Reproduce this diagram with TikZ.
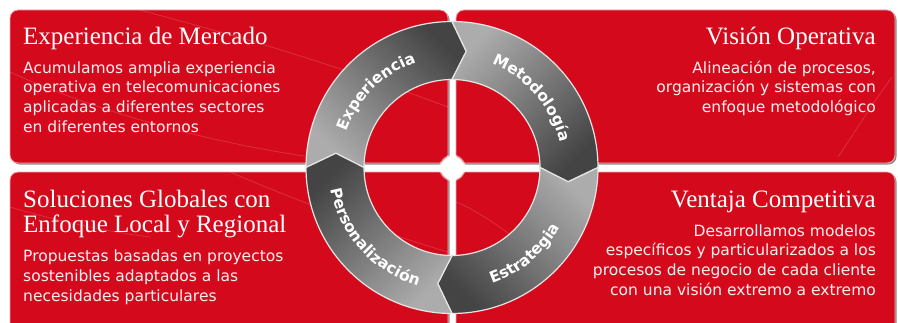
\documentclass[tikz,border=0pt]{standalone}
\usepackage{fontspec}
\usetikzlibrary{decorations.text,fadings}
\newfontfamily\titlefam{Liberation Serif}
\newfontfamily\bodyfam{DejaVu Sans}
\newcommand\ringfont{\bodyfam\bfseries\fontsize{15.5}{17}\selectfont}
\definecolor{boxred}{RGB}{212,10,28}
\definecolor{seglight}{RGB}{172,172,172}
\definecolor{segdark}{RGB}{68,68,68}

\tikzset{
  redbox/.style={fill=boxred, draw=white!65!boxred, line width=0.8pt, rounded corners=8pt},
  boxshadow/.style={fill=black!45, rounded corners=8pt},
  boxtitle/.style={text=white, font=\titlefam\fontsize{25}{25}\selectfont, inner sep=0pt},
  boxbody/.style={text=white!94!boxred, font=\bodyfam\fontsize{15.5}{19.8}\selectfont, inner sep=0pt},
  ringseg/.style={draw=white!80!gray, line width=1.2pt, top color=segdark, bottom color=seglight},
  streak/.style={white, opacity=0.15, line width=0.8pt}
}

\begin{document}
\begin{tikzpicture}[x=1pt,y=1pt]
\useasboundingbox (0,0) rectangle (898,322);

\fill[boxshadow] (11.5,157.5) rectangle (449.5,310.5);
\fill[boxshadow] (457.5,157.5) rectangle (896.5,310.5);
\fill[boxshadow] (11.5,-13.5) rectangle (449.5,148.5);
\fill[boxshadow] (457.5,-13.5) rectangle (896.5,148.5);
\draw[redbox] (10,159) rectangle (448,312);
\draw[redbox] (456,159) rectangle (895,312);
\draw[redbox] (10,-12) rectangle (448,150);
\draw[redbox] (456,-12) rectangle (895,150);

\draw[streak] (140,312) .. controls (220,290) and (300,270) .. (448,215);
\draw[streak] (10,250) .. controls (120,200) and (250,170) .. (360,159);
\draw[streak] (10,115) .. controls (60,100) and (110,90) .. (150,85);
\draw[streak] (230,150) .. controls (300,120) and (380,90) .. (448,70);
\draw[streak] (456,120) .. controls (480,110) and (500,95) .. (520,80);
\draw[streak] (892,245) .. controls (870,215) and (855,190) .. (838,165);

\node[boxtitle, anchor=base west] (mercado-title) at (23,277) {Experiencia de Mercado};
\node[boxbody, anchor=base west, align=left] (mercado-text) at (23,189.6)
  {Acumulamos amplia experiencia\\operativa en telecomunicaciones\\aplicadas a diferentes sectores\\en diferentes entornos};

\node[boxtitle, anchor=base east] (vision-title) at (876,277) {Visión Operativa};
\node[boxbody, anchor=base east, align=right] (vision-text) at (876,209.4)
  {Alineación de procesos,\\organización y sistemas con\\enfoque metodológico};

\node[boxtitle, anchor=base west, align=left] (soluciones-title) at (23,90)
  {Soluciones Globales con\\Enfoque Local y Regional};
\node[boxbody, anchor=base west, align=left] (soluciones-text) at (23,21)
  {Propuestas basadas en proyectos\\sostenibles adaptados a las\\necesidades particulares};

\node[boxtitle, anchor=base east] (ventaja-title) at (876,115) {Ventaja Competitiva};
\node[boxbody, anchor=base east, align=right] (ventaja-text) at (876,26.6)
  {Desarrollamos modelos\\específicos y particularizados a los\\procesos de negocio de cada cliente\\con una visión extremo a extremo};

\begin{scope}[shift={(452,154.5)}]
\fill[white, path fading=circle with fuzzy edge 20 percent] (0,0) circle (14);
\foreach \a/\sh in {180/-45,90/-135,0/135,270/45}
  \shade[ringseg, shading angle=\sh] (\a:146) arc[start angle=\a, end angle=\a-90, radius=146]
    -- (\a-97:117) -- (\a-90:88) arc[start angle=\a-90, end angle=\a, radius=88]
    -- (\a-7:117) -- cycle;

\path[decorate, decoration={text along path, text color=white, text align=center,
  text={|\ringfont|Experiencia}}] (195:111) arc[start angle=195, end angle=75, radius=111];
\path[decorate, decoration={text along path, text color=white, text align=center,
  text={|\ringfont|Metodología}}] (101:111) arc[start angle=101, end angle=-19, radius=111];
\path[decorate, decoration={text along path, text color=white, text align=center,
  text={|\ringfont|Estrategia}}] (-110:123) arc[start angle=-110, end angle=10, radius=123];
\path[decorate, decoration={text along path, text color=white, text align=center,
  text={|\ringfont|Personalización}}] (162:123) arc[start angle=162, end angle=282, radius=123];
\end{scope}
\end{tikzpicture}
\end{document}
